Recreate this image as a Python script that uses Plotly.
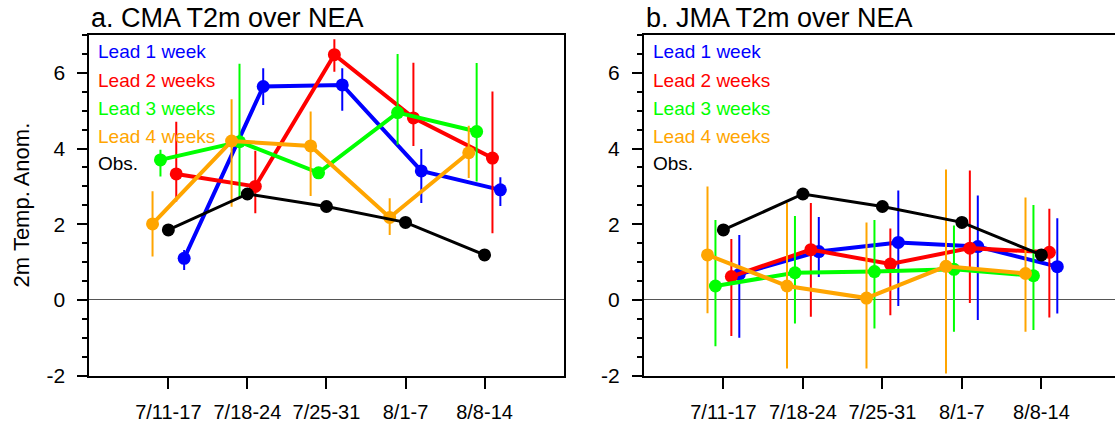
import plotly.graph_objects as go

# ---------------- data ----------------
weeks = ["7/11-17", "7/18-24", "7/25-31", "8/1-7", "8/8-14"]
series_names = ["Lead 1 week", "Lead 2 weeks", "Lead 3 weeks", "Lead 4 weeks", "Obs."]

obs = [1.85, 2.80, 2.47, 2.05, 1.19]

cma_lead1 = [1.10, 5.64, 5.68, 3.41, 2.91]
cma_lead1_hi = [1.32, 6.12, 6.12, 3.99, 3.24]
cma_lead1_lo = [0.79, 5.15, 5.00, 2.56, 2.48]
cma_lead2 = [3.33, 3.00, 6.48, 4.81, 3.75]
cma_lead2_hi = [4.71, 3.94, 6.89, 6.27, 5.51]
cma_lead2_lo = [2.60, 2.29, 6.03, 4.07, 1.76]
cma_lead3 = [3.70, 4.18, 3.36, 4.95, 4.45]
cma_lead3_hi = [3.97, 6.24, 3.50, 6.50, 6.26]
cma_lead3_lo = [3.26, 2.73, 3.22, 4.10, 3.13]
cma_lead4 = [2.01, 4.20, 4.07, 2.18, 3.89]
cma_lead4_hi = [2.87, 5.30, 4.98, 2.69, 4.60]
cma_lead4_lo = [1.15, 2.46, 2.75, 1.72, 3.22]

jma_lead1 = [0.68, 1.28, 1.52, 1.41, 0.88]
jma_lead1_hi = [1.72, 2.19, 2.89, 2.76, 2.16]
jma_lead1_lo = [-1.00, 0.61, -0.16, -0.53, -0.36]
jma_lead2 = [0.62, 1.33, 0.95, 1.37, 1.26]
jma_lead2_hi = [1.61, 2.56, 1.89, 3.42, 2.41]
jma_lead2_lo = [-0.95, -0.44, -0.40, -0.08, -0.46]
jma_lead3 = [0.37, 0.72, 0.75, 0.81, 0.64]
jma_lead3_hi = [2.11, 2.22, 2.11, 1.97, 2.51]
jma_lead3_lo = [-1.22, -0.62, -0.75, -0.84, -0.79]
jma_lead4 = [1.19, 0.37, 0.05, 0.89, 0.70]
jma_lead4_hi = [3.00, 2.57, 2.05, 3.45, 2.71]
jma_lead4_lo = [-0.35, -1.81, -1.81, -1.94, -0.84]

y_ticks = [-2, 0, 2, 4, 6]
y_tick_labels = ["-2", "0", "2", "4", "6"]

# ---------------- style ----------------
FONT = "Liberation Sans, Arial, Helvetica, sans-serif"
colors = ["#0000ff", "#ff0000", "#00ff00", "#ffa500", "#000000"]
offsets = [0.2, 0.1, -0.1, -0.2, 0.0]
W, H = 1115, 423

panels = [
    dict(title="a. CMA T2m over NEA", xa="x", ya="y",
         leads=[(cma_lead1, cma_lead1_hi, cma_lead1_lo),
                (cma_lead2, cma_lead2_hi, cma_lead2_lo),
                (cma_lead3, cma_lead3_hi, cma_lead3_lo),
                (cma_lead4, cma_lead4_hi, cma_lead4_lo)]),
    dict(title="b. JMA T2m over NEA", xa="x2", ya="y2",
         leads=[(jma_lead1, jma_lead1_hi, jma_lead1_lo),
                (jma_lead2, jma_lead2_hi, jma_lead2_lo),
                (jma_lead3, jma_lead3_hi, jma_lead3_lo),
                (jma_lead4, jma_lead4_hi, jma_lead4_lo)]),
]

fig = go.Figure()
idx = list(range(len(weeks)))

for p in panels:
    for k, (vals, hi, lo) in enumerate(p["leads"]):
        fig.add_trace(go.Scatter(
            x=[i + offsets[k] for i in idx], y=vals,
            xaxis=p["xa"], yaxis=p["ya"],
            mode="lines+markers", name=series_names[k], showlegend=False,
            line=dict(color=colors[k], width=4),
            marker=dict(color=colors[k], size=13),
            error_y=dict(type="data", symmetric=False,
                         array=[h - v for h, v in zip(hi, vals)],
                         arrayminus=[v - l for v, l in zip(vals, lo)],
                         color=colors[k], thickness=2, width=0),
            cliponaxis=False,
        ))
    fig.add_trace(go.Scatter(
        x=[i + offsets[4] for i in idx], y=obs,
        xaxis=p["xa"], yaxis=p["ya"],
        mode="lines+markers", name=series_names[4], showlegend=False,
        line=dict(color=colors[4], width=3),
        marker=dict(color=colors[4], size=13),
        cliponaxis=False,
    ))

left_px = [89.3, 643.9]
right_px = [563.6, 1115]
top_px, bot_px = 35, 375.7
ydom = [(H - bot_px) / H, (H - top_px) / H]

common_x = dict(tickmode="array", tickvals=idx, ticktext=weeks,
                showline=True, linecolor="black", linewidth=2, mirror=True,
                ticks="outside", ticklen=11, tickwidth=2, tickcolor="black",
                showgrid=False, zeroline=False, ticklabelstandoff=6,
                automargin=False,
                tickfont=dict(family=FONT, size=20, color="black"))
common_y = dict(range=[-2, 7], tickmode="array", tickvals=y_ticks,
                ticktext=y_tick_labels,
                showline=True, linecolor="black", linewidth=2,
                ticks="outside", ticklen=10, tickwidth=2, tickcolor="black",
                minor=dict(dtick=0.5, ticks="outside", ticklen=5, tickwidth=1.5,
                           tickcolor="black", showgrid=False),
                showgrid=False, zeroline=True, zerolinecolor="#555555",
                zerolinewidth=1, ticklabelstandoff=8, automargin=False,
                tickfont=dict(family=FONT, size=21, color="black"))

x_range_right = -1 + (right_px[1] - left_px[1]) / 79.5

fig.update_layout(
    width=W, height=H,
    margin=dict(l=0, r=0, t=0, b=0, autoexpand=False),
    paper_bgcolor="white", plot_bgcolor="white",
    xaxis=dict(domain=[left_px[0] / W, right_px[0] / W], range=[-1, 5],
               anchor="y", **common_x),
    yaxis=dict(domain=ydom, anchor="x", mirror=True, **common_y),
    xaxis2=dict(domain=[left_px[1] / W, 1.0], range=[-1, x_range_right],
                anchor="y2", **common_x),
    yaxis2=dict(domain=ydom, anchor="x2", mirror=False, **common_y),
)

annotations = []
for j, p in enumerate(panels):
    annotations.append(dict(
        text=p["title"], xref="paper", yref="paper",
        x=left_px[j] / W, y=(H - top_px) / H, xanchor="left", yanchor="bottom",
        showarrow=False, font=dict(family=FONT, size=27, color="black")))
    leg_y = [52, 80, 108, 136, 163]
    for k in range(5):
        annotations.append(dict(
            text=series_names[k], xref="paper", yref="paper",
            x=(left_px[j] + 7) / W, y=(H - leg_y[k]) / H,
            xanchor="left", yanchor="middle", showarrow=False,
            font=dict(family=FONT, size=19, color=colors[k])))

annotations.append(dict(
    text="2m Temp. Anom.", xref="paper", yref="paper",
    x=21.4 / W, y=(H - 205) / H, xanchor="center", yanchor="middle",
    textangle=-90, showarrow=False,
    font=dict(family=FONT, size=22, color="black")))

fig.update_layout(annotations=annotations)

fig.write_html("out.html")
